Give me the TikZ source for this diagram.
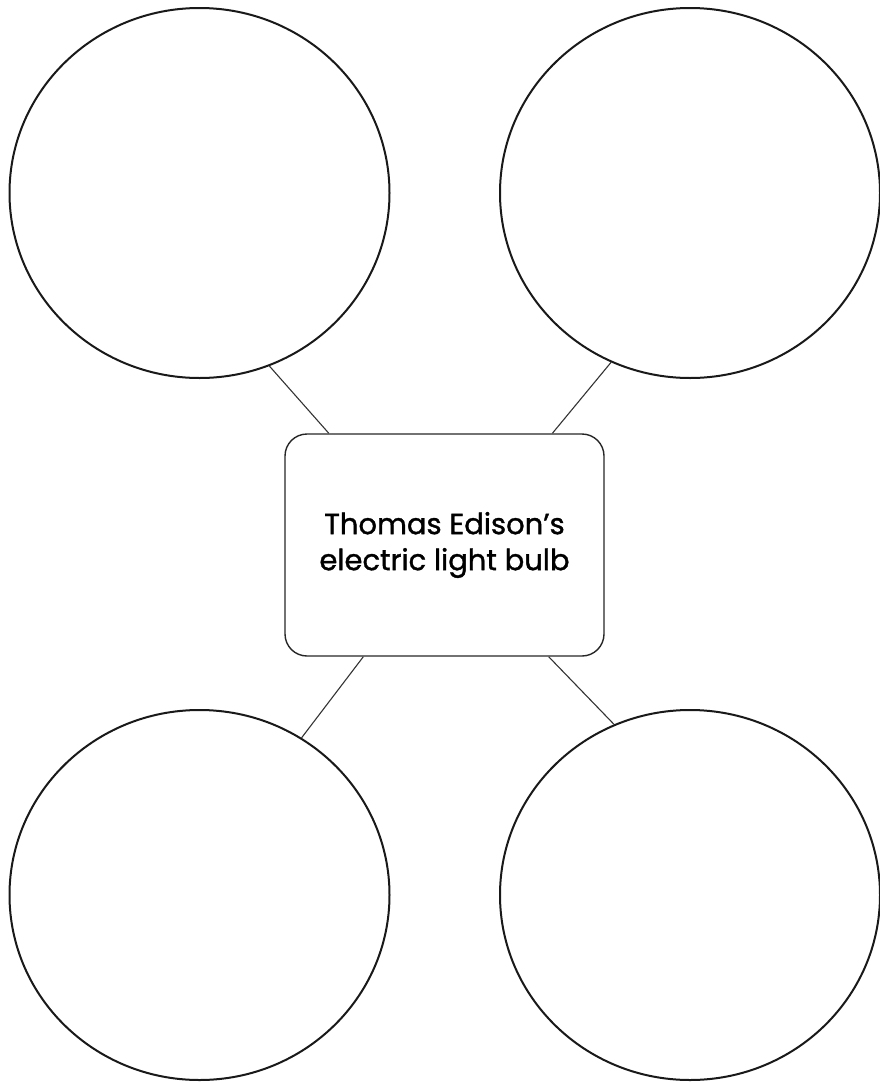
\documentclass[tikz,border=0pt]{standalone}
\usepackage{fontspec}
\setmainfont{Poppins}
\newfontfamily\topicfont{Poppins}[FakeBold=1.2]
\usetikzlibrary{shapes.geometric}

\begin{document}
\begin{tikzpicture}[
x=1pt, y=-1pt,
bubble/.style={
ellipse,
draw=black!90,
line width=2pt,
minimum width=380pt,
minimum height=370pt,
inner sep=0pt
},
topic/.style={
rectangle,
rounded corners=22pt,
draw=black!85,
line width=1.4pt,
minimum width=319pt,
minimum height=222pt,
align=center,
font=\topicfont\fontsize{29}{36}\selectfont
},
link/.style={
draw=black!80,
line width=1.1pt
}
]

\useasboundingbox (0,0) rectangle (879,1082);

\node[topic] (bulb) at (444.5,545)
{Thomas Edison’s\\
electric light bulb};

\node[bubble] (tl) at (199.5,193) {};
\node[bubble] (tr) at (690,193) {};
\node[bubble] (bl) at (199.5,895) {};
\node[bubble] (br) at (690,895) {};

\draw[link] (tl.-68.5) -- (bulb.136);
\draw[link] (tr.-115.6) -- (bulb.46.7);
\draw[link] (bl.57.5) -- (bulb.234.4);
\draw[link] (br.114.6) -- (bulb.-47.8);

\end{tikzpicture}
\end{document}
